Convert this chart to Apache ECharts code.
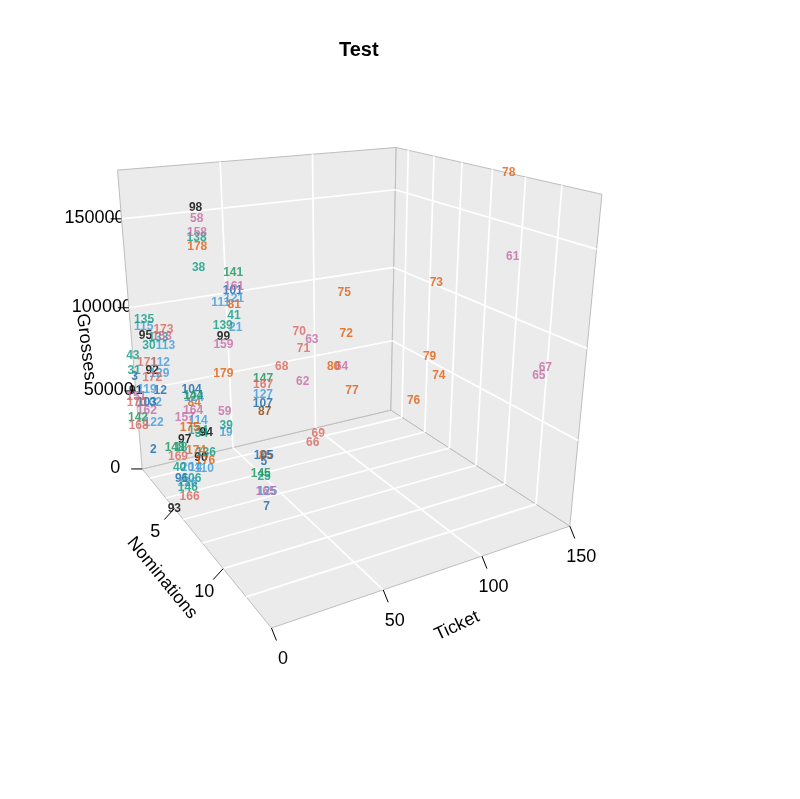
<!DOCTYPE html>
<html>
<head>
<meta charset="utf-8">
<title>Test</title>
<script src="https://cdn.jsdelivr.net/npm/echarts@6/dist/echarts.min.js"></script>
<style>
  html, body { margin: 0; padding: 0; background: #fff; }
  #chart { width: 800px; height: 799px; }
</style>
</head>
<body>
<div id="chart"></div>
<script>
// film labels and their three values
var ids = [2, 3, 5, 7, 12, 14, 18, 19, 20, 21,
    25, 30, 31, 34, 38, 39, 40, 41, 43, 58,
    59, 61, 62, 63, 64, 65, 66, 67, 68, 69,
    70, 71, 72, 73, 74, 75, 76, 77, 78, 79,
    80, 81, 84, 85, 87, 90, 91, 92, 93, 94,
    95, 96, 97, 98, 99, 101, 102, 103, 104, 105,
    106, 107, 110, 111, 112, 113, 114, 115, 119, 121,
    122, 124, 125, 126, 127, 129, 133, 134, 135, 136,
    138, 139, 141, 142, 144, 145, 146, 147, 148, 151,
    153, 157, 158, 159, 161, 162, 164, 165, 166, 167,
    168, 169, 170, 171, 172, 173, 174, 175, 176, 178,
    179];
var ticket = [6.6, 0, 51.9, 36.7, 8.6, 20.0, 13.1, 23.0, 15.8, 15.1,
    46.5, 4.7, 0, 19.8, 9.7, 23.2, 11.8, 14.6, 0, 10.0,
    22.8, 145.6, 50.7, 55.5, 63.8, 145.5, 55.3, 149, 40.7, 58.2,
    49.4, 51.3, 66.1, 145.8, 141.2, 65.1, 141.9, 69.0, 150, 143.2,
    59.8, 14.9, 17.1, 58.4, 37.3, 23.2, 0, 5.4, 0, 22.2,
    3.4, 8.5, 11.3, 9.8, 9.7, 14.5, 4.1, 1.5, 16.2, 57.3,
    13.4, 36.5, 24.5, 9.2, 9.7, 12.8, 18.5, 2.9, 2.1, 14.9,
    4.1, 17.1, 42.6, 11.3, 36.7, 8.8, 9.6, 18.1, 3.3, 25.9,
    9.5, 9.6, 15.0, 0, 16.8, 44.8, 11.3, 37.0, 10.0, 0,
    11.4, 12.0, 9.8, 9.5, 15.1, 1.2, 16.3, 41.9, 7.8, 36.9,
    0, 11.4, 0, 3.2, 5.1, 12.4, 20.8, 14.1, 25.3, 9.6,
    23.0];
var nominations = [1, 1, 4, 7, 2, 3, 3, 6, 3, 9,
    5, 2, 1, 4, 7, 6, 3, 9, 1, 7,
    6, 10, 8, 8, 9, 12, 8, 12, 8, 8,
    8, 8, 9, 5, 6, 9, 4, 9, 9, 5,
    9, 9, 4, 3, 7, 3, 1, 2, 5, 4,
    2, 4, 4, 7, 9, 9, 2, 2, 4, 3,
    4, 7, 3, 9, 2, 2, 4, 2, 2, 9,
    2, 4, 6, 4, 7, 2, 2, 4, 2, 3,
    7, 9, 9, 1, 4, 5, 4, 7, 3, 1,
    2, 4, 7, 9, 9, 2, 4, 6, 5, 7,
    1, 3, 1, 2, 2, 2, 3, 4, 3, 7,
    6];
var grosses = [11000, 58600, 7100, 2300, 52800, 6900, 21600, 44800, 7900, 117000,
    5100, 80700, 62200, 34400, 140600, 48600, 9400, 123300, 71400, 164000,
    57300, 134900, 77000, 99000, 87000, 77400, 41500, 80800, 87500, 45500,
    104400, 95000, 104300, 104200, 50400, 125400, 24000, 72700, 176000, 57900,
    87900, 128500, 53400, 3800, 58700, 12500, 49900, 65700, 0, 34200,
    86900, 9700, 33000, 169200, 113600, 135100, 46600, 47300, 61700, 4100,
    8100, 63500, 4700, 130300, 69700, 79100, 42300, 92200, 55300, 131400,
    34300, 56300, 3300, 5900, 68200, 63100, 84400, 36300, 96000, 15000,
    154900, 119400, 143500, 33100, 57600, 8000, 3200, 77300, 22300, 46300,
    84600, 45800, 157300, 109900, 137000, 42300, 48800, 3400, 4700, 74000,
    27900, 16400, 42600, 71100, 61700, 89000, 17400, 39300, 9700, 150600,
    78500];
// colour group of each film
var group = [0, 0, 0, 0, 0, 1, 2, 1, 1, 1,
    2, 2, 2, 2, 2, 2, 2, 2, 2, 4,
    4, 4, 4, 4, 4, 4, 5, 4, 5, 5,
    5, 5, 6, 6, 6, 6, 6, 6, 6, 6,
    6, 6, 6, 6, 7, 8, 8, 8, 8, 8,
    8, 0, 8, 8, 8, 0, 1, 0, 0, 0,
    2, 0, 1, 1, 1, 1, 1, 1, 1, 1,
    1, 1, 1, 1, 1, 1, 2, 2, 2, 2,
    2, 2, 3, 3, 3, 3, 2, 3, 3, 4,
    4, 4, 4, 4, 4, 4, 4, 4, 5, 5,
    5, 5, 5, 5, 5, 5, 6, 6, 6, 6,
    6];
var groupColors = ['#1565AD', '#3D9BDB', '#0E9C84', '#15965A', '#C46AA5',
    '#D8665C', '#E05E10', '#8A4300', '#000000'];

var ticketRange = [0, 150];
var nomRange = [1, 14];
var grossRange = [0, 176000];
var ticketTicks = [0, 50, 100, 150];
var nomTicks = [5, 10];
var grossTicks = [0, 50000, 100000, 150000];
var ticketGrid = [50, 100];
var nomGrid = [2, 4, 6, 8, 10, 12];
var grossGrid = [50000, 100000, 150000];

// where the box corners and some ticks sit on the page: used to fit the view
var calib = [
    [0, 1, 0, 142, 468],
    [0, 1, 176000, 117, 171],
    [150, 1, 0, 391, 411],
    [150, 1, 176000, 396, 147],
    [150, 14, 0, 570, 526],
    [150, 14, 176000, 602, 194],
    [0, 14, 0, 272, 628],
    [50, 14, 0, 383.3, 590.7],
    [100, 14, 0, 481, 555],
    [0, 5, 0, 175.7, 509.3],
    [0, 10, 0, 222.7, 569.3],
    [0, 1, 50000, 135.4, 390],
    [0, 1, 100000, 128.4, 307],
    [0, 1, 150000, 121, 219],
    [50, 1, 176000, 221.7, 162.3],
    [100, 1, 176000, 312.3, 154.3]
];

function norm(t, n, g) {
    return [(t - ticketRange[0]) / (ticketRange[1] - ticketRange[0]),
        (n - nomRange[0]) / (nomRange[1] - nomRange[0]),
        (g - grossRange[0]) / (grossRange[1] - grossRange[0])];
}

function solve(M, r) {
    var n = r.length;
    for (var c = 0; c < n; c++) {
        var piv = c;
        for (var k = c + 1; k < n; k++) {
            if (Math.abs(M[k][c]) > Math.abs(M[piv][c])) piv = k;
        }
        var tmp = M[c]; M[c] = M[piv]; M[piv] = tmp;
        tmp = r[c]; r[c] = r[piv]; r[piv] = tmp;
        for (var k2 = c + 1; k2 < n; k2++) {
            var f = M[k2][c] / M[c][c];
            for (var j = c; j < n; j++) M[k2][j] -= f * M[c][j];
            r[k2] -= f * r[c];
        }
    }
    var x = new Array(n);
    for (var i = n - 1; i >= 0; i--) {
        var s = r[i];
        for (var j2 = i + 1; j2 < n; j2++) s -= M[i][j2] * x[j2];
        x[i] = s / M[i][i];
    }
    return x;
}

// perspective view fitted by least squares
function fitCamera(pts) {
    var M = [], r = [];
    for (var i = 0; i < 11; i++) {
        M.push([0, 0, 0, 0, 0, 0, 0, 0, 0, 0, 0]);
        r.push(0);
    }
    pts.forEach(function (p) {
        var q = norm(p[0], p[1], p[2]), x = p[3], y = p[4];
        var u = q[0], v = q[1], w = q[2];
        var rows = [
            [u, v, w, 1, 0, 0, 0, 0, -x * u, -x * v, -x * w, x],
            [0, 0, 0, 0, u, v, w, 1, -y * u, -y * v, -y * w, y]
        ];
        rows.forEach(function (row) {
            for (var a = 0; a < 11; a++) {
                r[a] += row[a] * row[11];
                for (var b = 0; b < 11; b++) M[a][b] += row[a] * row[b];
            }
        });
    });
    return solve(M, r);
}

var cam = fitCamera(calib);

function project(t, n, g) {
    var q = norm(t, n, g), p = cam;
    var d = p[8] * q[0] + p[9] * q[1] + p[10] * q[2] + 1;
    return [(p[0] * q[0] + p[1] * q[1] + p[2] * q[2] + p[3]) / d,
        (p[4] * q[0] + p[5] * q[1] + p[6] * q[2] + p[7]) / d];
}

var t0 = ticketRange[0], t1 = ticketRange[1];
var n0 = nomRange[0], n1 = nomRange[1];
var g0 = grossRange[0], g1 = grossRange[1];

var panels = [
    [[t0, n0, g0], [t1, n0, g0], [t1, n1, g0], [t0, n1, g0]],
    [[t0, n0, g0], [t1, n0, g0], [t1, n0, g1], [t0, n0, g1]],
    [[t1, n0, g0], [t1, n1, g0], [t1, n1, g1], [t1, n0, g1]]
];

var gridSegs = [];
ticketGrid.forEach(function (t) {
    gridSegs.push([[t, n0, g0], [t, n1, g0]]);
    gridSegs.push([[t, n0, g0], [t, n0, g1]]);
});
nomGrid.forEach(function (n) {
    gridSegs.push([[t0, n, g0], [t1, n, g0]]);
    gridSegs.push([[t1, n, g0], [t1, n, g1]]);
});
grossGrid.forEach(function (g) {
    gridSegs.push([[t0, n0, g], [t1, n0, g]]);
    gridSegs.push([[t1, n0, g], [t1, n1, g]]);
});

// ticks: start point, tick offset, label offset, text
var ticks = [];
ticketTicks.forEach(function (t) {
    ticks.push({ p: project(t, n1, g0), d: [5, 12.5], l: [11.5, 31], text: String(t) });
});
nomTicks.forEach(function (n) {
    ticks.push({ p: project(t0, n, g0), d: [-10, 11], l: [-19, 23], text: String(n) });
});
grossTicks.forEach(function (g) {
    ticks.push({ p: project(t0, n0, g), d: [-11, 0], l: [-27, -1], text: String(g) });
});

var axisFont = '18px "Liberation Sans", Arial, sans-serif';
var texts = ticks.map(function (tk) {
    return { pos: [tk.p[0] + tk.l[0], tk.p[1] + tk.l[1]], text: tk.text, rot: 0, font: axisFont };
});
texts.push({ pos: [457, 626], text: 'Ticket', rot: 25, font: axisFont });
texts.push({ pos: [162, 578], text: 'Nominations', rot: -50.6, font: axisFont });
texts.push({ pos: [86, 347], text: 'Grosses', rot: -83, font: axisFont });

function dummy(arr) { return arr.map(function () { return [0, 0]; }); }

var chart = echarts.init(document.getElementById('chart'));
chart.setOption({
    animation: false,
    backgroundColor: '#ffffff',
    title: {
        text: 'Test',
        left: 339,
        top: 40,
        padding: 0,
        textStyle: { fontSize: 20, fontWeight: 'bold', color: '#000', fontFamily: '"Liberation Sans", Arial, sans-serif' }
    },
    grid: { left: 0, right: 0, top: 0, bottom: 0 },
    xAxis: { type: 'value', min: 0, max: 800, show: false },
    yAxis: { type: 'value', min: 0, max: 799, inverse: true, show: false },
    series: [
        {
            type: 'custom', coordinateSystem: 'cartesian2d', silent: true, z: 1,
            data: dummy(texts),
            renderItem: function (params, api) {
                var it = texts[params.dataIndex];
                var c = api.coord(it.pos);
                return {
                    type: 'text', x: c[0], y: c[1], rotation: it.rot * Math.PI / 180,
                    style: { text: it.text, x: 0, y: 0, align: 'center', verticalAlign: 'middle', font: it.font, fill: '#000' }
                };
            }
        },
        {
            type: 'custom', coordinateSystem: 'cartesian2d', silent: true, z: 2,
            data: dummy(panels),
            renderItem: function (params, api) {
                var pts = panels[params.dataIndex].map(function (q) {
                    return api.coord(project(q[0], q[1], q[2]));
                });
                return { type: 'polygon', shape: { points: pts }, style: { fill: '#EBEBEB', stroke: '#BEBEBE', lineWidth: 1 } };
            }
        },
        {
            type: 'custom', coordinateSystem: 'cartesian2d', silent: true, z: 3,
            data: dummy(gridSegs),
            renderItem: function (params, api) {
                var s = gridSegs[params.dataIndex];
                var a = api.coord(project(s[0][0], s[0][1], s[0][2]));
                var b = api.coord(project(s[1][0], s[1][1], s[1][2]));
                return { type: 'line', shape: { x1: a[0], y1: a[1], x2: b[0], y2: b[1] }, style: { stroke: '#FFFFFF', lineWidth: 1.7 } };
            }
        },
        {
            type: 'custom', coordinateSystem: 'cartesian2d', silent: true, z: 3,
            data: dummy(ticks),
            renderItem: function (params, api) {
                var tk = ticks[params.dataIndex];
                var a = api.coord(tk.p);
                var b = api.coord([tk.p[0] + tk.d[0], tk.p[1] + tk.d[1]]);
                return { type: 'line', shape: { x1: a[0], y1: a[1], x2: b[0], y2: b[1] }, style: { stroke: '#000000', lineWidth: 1 } };
            }
        },
        {
            type: 'scatter', z: 10, silent: true,
            symbolSize: 0,
            data: ids.map(function (id, i) {
                return {
                    name: String(id),
                    value: project(ticket[i], nominations[i], grosses[i]),
                    label: { color: groupColors[group[i]] }
                };
            }),
            label: {
                show: true, position: 'inside', formatter: '{b}',
                fontSize: 12, fontWeight: 'bold', fontFamily: '"Liberation Sans", Arial, sans-serif'
            }
        }
    ]
});
</script>
</body>
</html>
